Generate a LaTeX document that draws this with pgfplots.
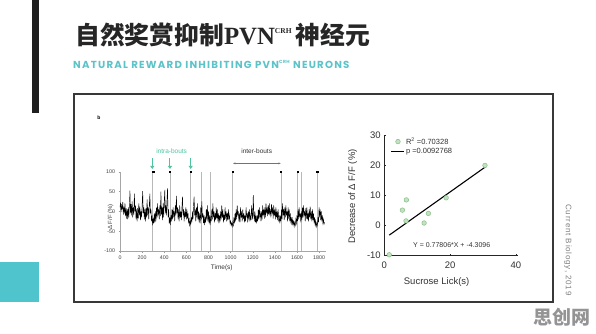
\documentclass[border=0pt]{standalone}
\usepackage{pgfplots}
\pgfplotsset{compat=1.18}
\usepackage{fontspec}
\setmainfont{Liberation Sans}
\newfontfamily\cjk{Noto Sans CJK SC}
\newfontfamily\titleserif{Liberation Serif}
\newfontfamily\subfont[LetterSpace=12]{Poppins}
\newfontfamily\cbfont[LetterSpace=10]{Liberation Sans}
\usetikzlibrary{arrows.meta}
\definecolor{teal1}{HTML}{4FC4CC}
\definecolor{subteal}{HTML}{5CC3C9}
\definecolor{arrowgreen}{HTML}{4DC3A0}
\definecolor{framegray}{HTML}{383838}
\definecolor{ptfill}{HTML}{C2E2C2}
\definecolor{ptedge}{HTML}{86BF86}
\begin{document}
\begin{tikzpicture}
\useasboundingbox (0pt,0pt) rectangle (596pt,333pt);
\fill[white] (0pt,0pt) rectangle (596pt,333pt);
\fill[black!88] (32pt,220pt) rectangle (39pt,333pt);
\fill[teal1] (0pt,31pt) rectangle (39pt,71pt);
\draw[framegray, line width=1.5pt] (74pt,31pt) rectangle (553pt,239pt);
\node[anchor=base west, inner sep=0, text=black!85] at (75pt,289pt) {\fontsize{24.8}{24.8}\selectfont\bfseries\cjk 自然奖赏抑制\titleserif PVN\raisebox{0.9ex}{\fontsize{7.5}{7.5}\selectfont CRH}\,\cjk 神经元};
\node[anchor=base west, inner sep=0, text=subteal] at (73pt,265pt) {\fontsize{10.2}{10.2}\selectfont\subfont\bfseries NATURAL REWARD INHIBITING PVN\raisebox{0.8ex}{\fontsize{4.5}{4.5}\selectfont CRH} NEURONS};
\node[font=\fontsize{5}{5}\selectfont\bfseries] at (99pt,215pt) {b};
\node[rotate=-90, text=black!50, font=\fontsize{8}{8}\selectfont\cbfont] at (568pt,83pt) {Current Biology, 2019};
\node[text=black!42, font=\fontsize{19}{19}\selectfont\cjk\bfseries] at (562pt,16pt) {思创网};

% ---------------- left: trace ----------------
\begin{axis}[
 at={(120pt,82pt)}, anchor=south west, scale only axis,
 width=205.7pt, height=79.3pt,
 xmin=0, xmax=1860, ymin=-100, ymax=100,
 axis lines*=left, clip=false,
 axis line style={black!35, line width=0.5pt},
 xtick={0,200,...,1800}, ytick={-100,-50,...,100},
 tick style={black!40, line width=0.4pt}, major tick length=1.5pt, tick align=outside,
 ticklabel style={font=\fontsize{5.3}{5.3}\selectfont, text=black!75},
 /pgf/number format/assume math mode=true,
 /pgf/number format/1000 sep={},
]
\addplot[black!28, line width=0.6pt] coordinates {(292,-100)(292,100)};
\addplot[black!28, line width=0.6pt] coordinates {(452,-100)(452,100)};
\addplot[black!28, line width=0.6pt] coordinates {(639,-100)(639,100)};
\addplot[black!28, line width=0.6pt] coordinates {(738,-100)(738,100)};
\addplot[black!28, line width=0.6pt] coordinates {(814,-100)(814,100)};
\addplot[black!28, line width=0.6pt] coordinates {(1019,-100)(1019,100)};
\addplot[black!28, line width=0.6pt] coordinates {(1456,-100)(1456,100)};
\addplot[black!28, line width=0.6pt] coordinates {(1607,-100)(1607,100)};
\addplot[black!28, line width=0.6pt] coordinates {(1643,-100)(1643,100)};
\addplot[black!28, line width=0.6pt] coordinates {(1784,-100)(1784,100)};
\addplot[black, line width=0.45pt] coordinates {
(0,10)(5,22)(10,-2)(15,18)(20,5)(25,24)(30,-8)(35,12)(40,-5)(45,20)(50,-12)(55,8)(60,-18)(65,5)(70,-20)(75,10)(80,-15)(85,15)(90,52)(95,-5)
(100,18)(105,-10)(110,25)(115,-15)(120,10)(125,-8)(130,45)(135,0)(140,15)(145,-20)(150,5)(155,-25)(160,8)(165,-18)(170,20)(175,-10)(180,12)(185,-22)(190,0)(195,-15)
(200,15)(205,51)(210,-5)(215,10)(220,-20)(225,5)(230,-25)(235,8)(240,-15)(245,30)(250,-10)(255,10)(260,-20)(265,15)(270,45)(275,-5)(280,5)(285,-25)(290,-10)(295,-35)
(300,-20)(305,-30)(310,-5)(315,-28)(320,0)(325,-25)(330,10)(335,-15)(340,20)(345,-10)(350,5)(355,-20)(360,15)(365,-12)(370,50)(375,-8)(380,10)(385,-22)(390,20)(395,-15)
(400,25)(405,54)(410,-5)(415,15)(420,-10)(425,30)(430,58)(435,-15)(440,5)(445,-30)(450,-15)(455,-35)(460,-10)(465,-25)(470,5)(475,-20)(480,10)(485,-15)(490,0)(495,-25)
(500,15)(505,-10)(510,39)(515,-5)(520,10)(525,-20)(530,5)(535,-25)(540,15)(545,-15)(550,0)(555,-22)(560,10)(565,37)(570,-10)(575,5)(580,-25)(585,0)(590,-15)(595,10)
(600,-20)(605,5)(610,-18)(615,-5)(620,-30)(625,-20)(630,-35)(635,-25)(640,-32)(645,-15)(650,-28)(655,0)(660,-20)(665,15)(670,37)(675,-10)(680,5)(685,-25)(690,10)(695,-15)
(700,20)(705,-20)(710,0)(715,-28)(720,-5)(725,-30)(730,10)(735,-20)(740,25)(745,-15)(750,-5)(755,-30)(760,-10)(765,-35)(770,-15)(775,-28)(780,5)(785,-20)(790,15)(795,-25)
(800,0)(805,-30)(810,-10)(815,-35)(820,-15)(825,-25)(830,5)(835,-20)(840,20)(845,-15)(850,0)(855,-28)(860,-5)(865,-22)(870,10)(875,-18)(880,5)(885,-25)(890,-5)(895,-30)
(900,-10)(905,-25)(910,0)(915,-20)(920,15)(925,-15)(930,5)(935,-28)(940,-8)(945,-22)(950,10)(955,-18)(960,0)(965,-25)(970,-5)(975,-22)(980,5)(985,-20)(990,-10)(995,-30)
(1000,-25)(1005,-35)(1010,-30)(1015,-38)(1020,-28)(1025,-35)(1030,-15)(1035,-30)(1040,-5)(1045,-25)(1050,5)(1055,-20)(1060,15)(1065,-10)(1070,0)(1075,-25)(1080,-5)(1085,-28)(1090,10)(1095,-15)
(1100,-5)(1105,-25)(1110,5)(1115,-18)(1120,-5)(1125,-28)(1130,-10)(1135,-25)(1140,10)(1145,-15)(1150,-5)(1155,-28)(1160,0)(1165,-20)(1170,5)(1175,-25)(1180,-10)(1185,-22)(1190,15)(1195,-10)
(1200,-20)(1205,41)(1210,-5)(1215,-25)(1220,0)(1225,-28)(1230,-10)(1235,-30)(1240,-15)(1245,-25)(1250,5)(1255,-20)(1260,10)(1265,-15)(1270,-5)(1275,-25)(1280,0)(1285,-20)(1290,15)(1295,-10)
(1300,5)(1305,-18)(1310,10)(1315,-15)(1320,20)(1325,-5)(1330,10)(1335,-12)(1340,15)(1345,-8)(1350,20)(1355,-10)(1360,5)(1365,-15)(1370,18)(1375,-5)(1380,10)(1385,-18)(1390,15)(1395,-10)
(1400,5)(1405,-20)(1410,10)(1415,-15)(1420,0)(1425,-22)(1430,5)(1435,-25)(1440,-10)(1445,-30)(1450,-15)(1455,-25)(1460,5)(1465,-20)(1470,20)(1475,-10)(1480,5)(1485,-22)(1490,10)(1495,-15)
(1500,15)(1505,-10)(1510,0)(1515,-25)(1520,10)(1525,-18)(1530,5)(1535,-25)(1540,-5)(1545,-30)(1550,-15)(1555,-35)(1560,-20)(1565,-32)(1570,-25)(1575,-38)(1580,-28)(1585,-35)(1590,-20)(1595,-30)
(1600,-10)(1605,-25)(1610,5)(1615,-20)(1620,10)(1625,-15)(1630,-5)(1635,-28)(1640,0)(1645,-22)(1650,10)(1655,-15)(1660,15)(1665,-10)(1670,0)(1675,-25)(1680,8)(1685,-18)(1690,10)(1695,-20)
(1700,-5)(1705,-25)(1710,5)(1715,-15)(1720,12)(1725,-20)(1730,0)(1735,-25)(1740,5)(1745,-22)(1750,-5)(1755,-30)(1760,-15)(1765,-35)(1770,-25)(1775,-38)(1780,-30)(1785,-35)(1790,-15)(1795,-28)
(1800,10)(1805,-15)(1810,5)(1815,-22)(1820,0)(1825,-25)(1830,-10)(1835,-30)(1840,-20)(1845,-32)(1850,-28)
};
\addplot[black, line width=1.8pt] coordinates {(285,100)(320,100)};
\addplot[black, line width=1.8pt] coordinates {(1776,100)(1800,100)};
\addplot[only marks, mark=square*, mark size=0.6pt, black] coordinates {(452,100)(639,100)(1019,100)(1456,100)(1607,100)};
\draw[arrowgreen, line width=1pt, -{Triangle[length=3pt,width=4pt]}] (axis cs:292,134) -- (axis cs:292,107);
\draw[arrowgreen, line width=1pt, -{Triangle[length=3pt,width=4pt]}] (axis cs:452,134) -- (axis cs:452,107);
\draw[arrowgreen, line width=1pt, -{Triangle[length=3pt,width=4pt]}] (axis cs:639,134) -- (axis cs:639,107);
\node[text=arrowgreen, font=\fontsize{6.5}{6.5}\selectfont] at (axis cs:467,153) {intra-bouts};
\node[text=black!80, font=\fontsize{6.5}{6.5}\selectfont] at (axis cs:1236,153) {inter-bouts};
\draw[black!55, line width=0.5pt, {Stealth[length=2.5pt]}-{Stealth[length=2.5pt]}] (axis cs:1022,121) -- (axis cs:1454,121);
\node[font=\fontsize{6.5}{6.5}\selectfont, text=black!80] at (axis cs:920,-142) {Time(s)};
\node[rotate=90, font=\fontsize{6}{6}\selectfont, text=black!75] at (axis cs:-85,-14) {Δ F/F (\%)};
\end{axis}

% ---------------- right: scatter ----------------
\begin{axis}[
 at={(384.3pt,77.3pt)}, anchor=south west, scale only axis,
 width=133.9pt, height=120pt,
 xmin=0, xmax=40.7, ymin=-10, ymax=30,
 axis lines*=left, clip=false,
 axis line style={black!85, line width=1.1pt},
 xtick={0,20,40}, ytick={-10,0,...,30},
 tick style={black!85, line width=0.8pt}, major tick length=2pt, tick align=inside,
 ticklabel style={font=\fontsize{9.5}{9.5}\selectfont, text=black!80},
 xticklabel style={yshift=-3pt},
 /pgf/number format/assume math mode=true,
 legend image code/.code={\draw[mark repeat=2,mark phase=2,#1] plot coordinates {(0pt,0pt)(6.5pt,0pt)(13pt,0pt)};},
 legend style={at={(axis cs:1.95,29.8)}, anchor=north west, draw=none, fill=none,
   font=\fontsize{7.5}{7.5}\selectfont, text=black!80, inner sep=0pt, row sep=0.5pt,
   nodes={inner sep=1pt}},
 legend cell align=left,
]
\addplot[only marks, mark=*, mark size=2.3pt, mark options={fill=ptfill, draw=ptedge, line width=0.5pt}] coordinates {(1.5,-9.7)(5.5,5.2)(6.7,8.6)(6.6,1.6)(12.1,0.9)(13.4,4.1)(18.8,9.3)(30.6,20.1)};
\addlegendentry{R\textsuperscript{2} =0.70328}
\addplot[black, line width=1.1pt] coordinates {(1.5,-3.142)(30.8,19.655)};
\addlegendentry{p =0.0092768}
\node[font=\fontsize{7}{7}\selectfont, text=black!80] at (axis cs:20.5,-6.4) {Y = 0.77806*X + -4.3096};
\node[font=\fontsize{9.5}{9.5}\selectfont, text=black!80] at (axis cs:15.9,-18.7) {Sucrose Lick(s)};
\node[rotate=90, font=\fontsize{9.5}{9.5}\selectfont, text=black!80] at (axis cs:-9.6,9.7) {Decrease of Δ F/F (\%)};
\end{axis}
\end{tikzpicture}
\end{document}
